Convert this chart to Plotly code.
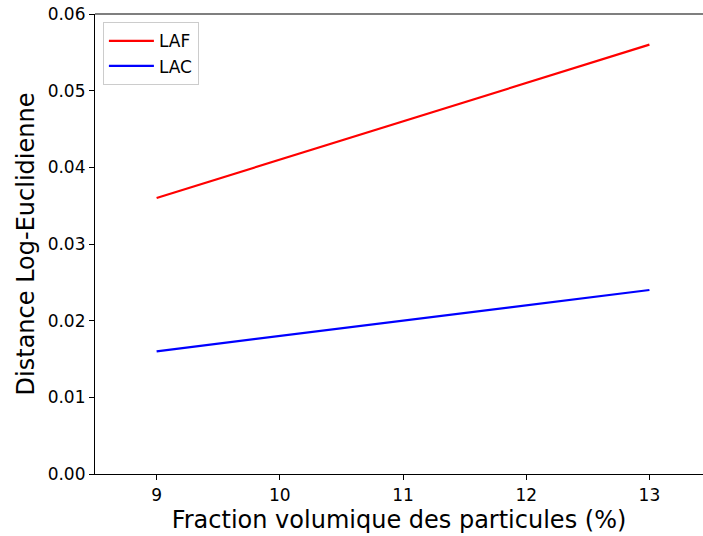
import plotly.graph_objects as go

fraction = [9, 13]
laf = [0.036, 0.056]
lac = [0.016, 0.024]

fig = go.Figure()
fig.add_trace(go.Scatter(x=fraction, y=laf, mode='lines', name='LAF',
                         line=dict(color='#ff0000', width=2.2)))
fig.add_trace(go.Scatter(x=fraction, y=lac, mode='lines', name='LAC',
                         line=dict(color='#0000ff', width=2.2)))

axis_common = dict(showgrid=False, zeroline=False, showline=True, linecolor='black',
                   linewidth=1.2, ticks='outside', ticklen=5, tickcolor='black',
                   tickfont=dict(size=17, color='black'))

fig.update_xaxes(range=[8.5, 13.435], dtick=1, mirror=False,
                 title=dict(text='Fraction volumique des particules (%)',
                            font=dict(size=24, color='black'), standoff=7),
                 **axis_common)
fig.update_yaxes(range=[0, 0.06], dtick=0.01, tickformat='.2f',
                 title=dict(text='Distance Log-Euclidienne',
                            font=dict(size=24, color='black'), standoff=6),
                 **axis_common)

# top spine
fig.add_shape(type='line', xref='paper', yref='paper', x0=0, x1=1, y0=1, y1=1,
              line=dict(color='black', width=1.2))

fig.update_layout(
    width=703, height=536,
    margin=dict(l=95, r=0, t=14, b=62),
    plot_bgcolor='white', paper_bgcolor='white',
    font=dict(family='DejaVu Sans', color='black'),
    legend=dict(x=0.013, y=0.982, xanchor='left', yanchor='top',
                bgcolor='rgba(255,255,255,0.8)', bordercolor='#cccccc', borderwidth=1,
                itemwidth=45, font=dict(size=17)),
)
fig.write_html("out.html", config={'displayModeBar': False},
               post_script="document.body.style.margin='0';")
